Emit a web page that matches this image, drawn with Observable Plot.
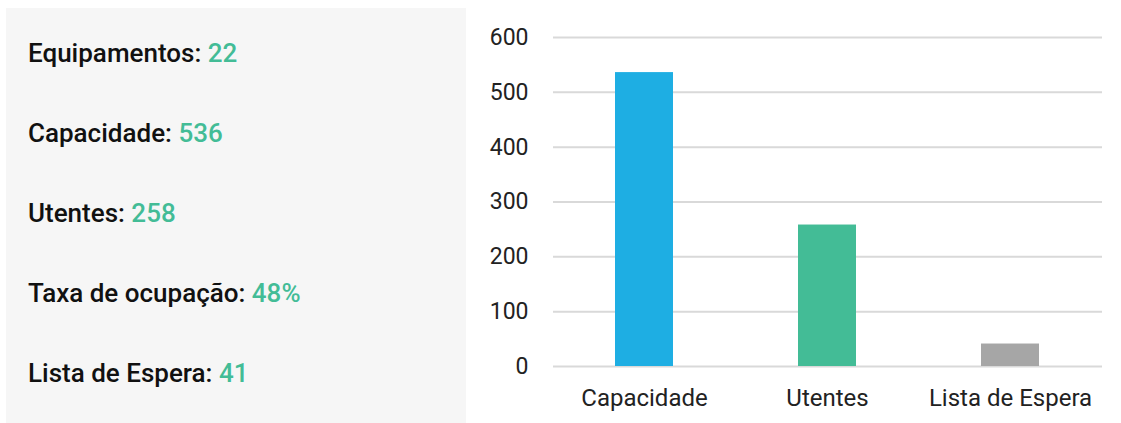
<!DOCTYPE html>
<html>
<head>
<meta charset="utf-8">
<script src="https://cdn.jsdelivr.net/npm/d3@7"></script>
<script src="https://cdn.jsdelivr.net/npm/@observablehq/plot@0.6"></script>
<style>
  html, body { margin: 0; padding: 0; background: #ffffff; }
  body { width: 1121px; height: 423px; position: relative; overflow: hidden; font-family: Roboto, "Noto Sans", sans-serif; }
  #panel { position: absolute; left: 6px; top: 8px; width: 460px; height: 415px; background: #f6f6f6; }
  .stat { position: absolute; left: 22px; font-size: 26px; font-weight: 500; color: #111111; line-height: 1; white-space: nowrap; }
  .stat span { color: #43bc96; }
  #chart { position: absolute; left: 466px; top: 0; }
</style>
</head>
<body>
<div id="panel"></div>
<div id="chart"></div>
<script>
const categories = ["Capacidade", "Utentes", "Lista de Espera"];
const values = [536, 258, 41];
const barColors = ["#1eaee3", "#43bc96", "#a6a6a6"];
const statLabels = ["Equipamentos", "Capacidade", "Utentes", "Taxa de ocupação", "Lista de Espera"];
const statValues = ["22", "536", "258", "48%", "41"];
const yTicks = [0, 100, 200, 300, 400, 500, 600];

const panel = document.getElementById("panel");
statLabels.forEach((lab, i) => {
  const d = document.createElement("div");
  d.className = "stat";
  d.style.top = (32 + i * 80) + "px";
  d.textContent = lab + ": ";
  const s = document.createElement("span");
  s.textContent = statValues[i];
  d.appendChild(s);
  panel.appendChild(d);
});

const data = categories.map((c, i) => ({category: c, value: values[i]}));

const chart = Plot.plot({
  width: 655,
  height: 423,
  marginLeft: 87,
  marginRight: 19,
  marginTop: 37,
  marginBottom: 57,
  style: {fontFamily: "Roboto, 'Noto Sans', sans-serif", fontSize: "23px", color: "#222222", background: "transparent"},
  x: {domain: categories, paddingInner: 0.683, paddingOuter: 0.34, label: null},
  y: {domain: [0, 600], label: null},
  color: {domain: categories, range: barColors},
  marks: [
    Plot.gridY(yTicks, {stroke: "#d9d9d9", strokeOpacity: 1, strokeWidth: 2}),
    Plot.barY(data, {x: "category", y: "value", fill: "category"}),
    Plot.axisY(yTicks, {tickSize: 0, tickPadding: 25, label: null, fontSize: 23}),
    Plot.axisX({tickSize: 0, tickPadding: 22, label: null, fontSize: 24})
  ]
});
document.getElementById("chart").appendChild(chart);
</script>
</body>
</html>
